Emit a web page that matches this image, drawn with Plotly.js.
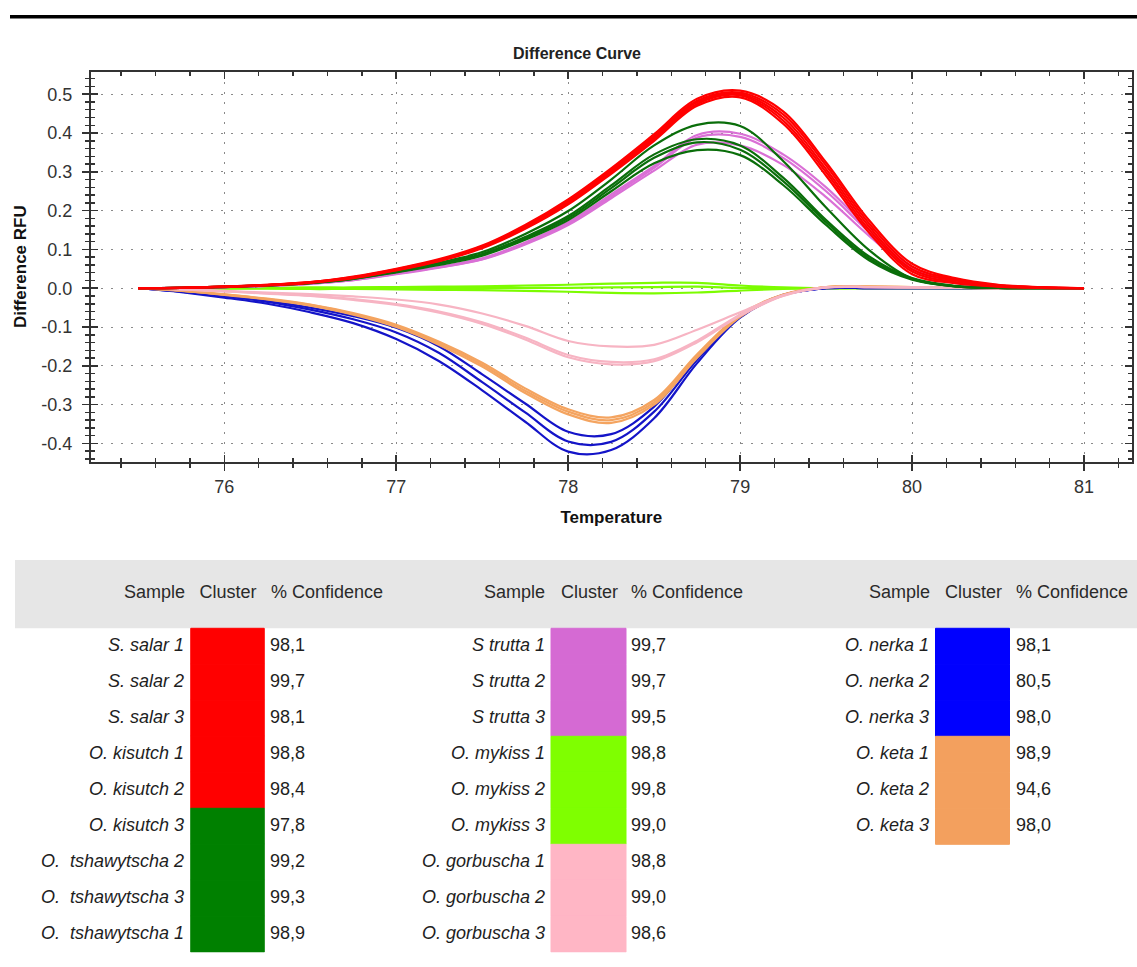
<!DOCTYPE html>
<html>
<head>
<meta charset="utf-8">
<script src="https://cdn.plot.ly/plotly-3.0.1.min.js"></script>
<style>
html, body { margin: 0; padding: 0; background: #ffffff; }
#chart { width: 1137px; height: 967px; }
</style>
</head>
<body>
<div id="chart"></div>
<script>
// ---------------- DATA ----------------
const temps = [75.5, 75.75, 76, 76.25, 76.5, 76.75, 77, 77.25, 77.5, 77.75, 78, 78.25, 78.5, 78.75, 79, 79.25, 79.5, 79.75, 80, 80.25, 80.5, 80.75, 81];

// red cluster
const salar1    = [0, 0.001, 0.003, 0.007, 0.014, 0.026, 0.046, 0.070, 0.103, 0.153, 0.216, 0.295, 0.380, 0.470, 0.492, 0.424, 0.290, 0.143, 0.036, 0.013, 0.004, 0.001, 0];
const salar2    = [0, 0.001, 0.004, 0.008, 0.015, 0.027, 0.047, 0.071, 0.105, 0.155, 0.219, 0.299, 0.384, 0.475, 0.497, 0.432, 0.299, 0.151, 0.043, 0.016, 0.005, 0.001, 0];
const salar3    = [0, 0.001, 0.004, 0.008, 0.015, 0.028, 0.048, 0.072, 0.106, 0.157, 0.222, 0.302, 0.388, 0.479, 0.500, 0.440, 0.307, 0.159, 0.049, 0.020, 0.007, 0.002, 0];
const kisutch1  = [0, 0.001, 0.004, 0.009, 0.016, 0.029, 0.049, 0.073, 0.108, 0.160, 0.225, 0.305, 0.392, 0.483, 0.504, 0.448, 0.316, 0.167, 0.056, 0.023, 0.008, 0.002, 0];
const kisutch2  = [0, 0.001, 0.004, 0.009, 0.016, 0.030, 0.050, 0.075, 0.110, 0.163, 0.229, 0.309, 0.397, 0.488, 0.509, 0.456, 0.324, 0.175, 0.063, 0.026, 0.009, 0.003, 0];
// dark green cluster
const kisutch3      = [0, 0.001, 0.004, 0.008, 0.014, 0.026, 0.045, 0.066, 0.093, 0.140, 0.199, 0.280, 0.368, 0.421, 0.418, 0.328, 0.208, 0.098, 0.025, 0.005, 0.001, 0, 0];
const tshawytscha2  = [0, 0.001, 0.004, 0.008, 0.014, 0.025, 0.043, 0.063, 0.088, 0.132, 0.186, 0.265, 0.345, 0.384, 0.368, 0.285, 0.176, 0.082, 0.026, 0.006, 0.001, 0, 0];
const tshawytscha3  = [0, 0.001, 0.003, 0.007, 0.013, 0.024, 0.042, 0.062, 0.086, 0.129, 0.181, 0.258, 0.336, 0.376, 0.357, 0.276, 0.170, 0.077, 0.024, 0.005, 0.001, 0, 0];
const tshawytscha1  = [0, 0.001, 0.003, 0.007, 0.013, 0.024, 0.041, 0.060, 0.084, 0.125, 0.176, 0.250, 0.322, 0.356, 0.343, 0.266, 0.163, 0.072, 0.022, 0.005, 0.001, 0, 0];
// orchid cluster
const trutta1 = [0, 0.001, 0.003, 0.006, 0.012, 0.022, 0.038, 0.055, 0.077, 0.118, 0.170, 0.242, 0.315, 0.395, 0.398, 0.345, 0.260, 0.152, 0.055, 0.016, 0.004, 0.001, 0];
const trutta2 = [0, 0.001, 0.003, 0.006, 0.012, 0.021, 0.037, 0.054, 0.075, 0.115, 0.166, 0.237, 0.310, 0.388, 0.390, 0.336, 0.250, 0.145, 0.052, 0.015, 0.004, 0.001, 0];
const trutta3 = [0, 0.001, 0.003, 0.006, 0.011, 0.021, 0.036, 0.053, 0.074, 0.113, 0.163, 0.232, 0.303, 0.370, 0.368, 0.318, 0.235, 0.135, 0.048, 0.014, 0.003, 0.001, 0];
// lawn green cluster
const mykiss1 = [0, 0, 0.001, 0.001, 0.002, 0.002, 0.003, 0.004, 0.005, 0.007, 0.009, 0.012, 0.014, 0.014, 0.007, 0.002, 0, 0, 0, 0, 0, 0, 0];
const mykiss2 = [0, 0, 0, 0, 0, 0.001, 0.001, 0.001, 0.001, 0.001, 0.001, 0.002, 0.003, 0.004, 0.001, 0, 0, 0, 0, 0, 0, 0, 0];
const mykiss3 = [0, 0, -0.001, -0.001, -0.002, -0.002, -0.003, -0.004, -0.005, -0.007, -0.009, -0.012, -0.013, -0.011, -0.006, -0.002, 0, 0, 0, 0, 0, 0, 0];
// pink cluster
const gorbuscha1 = [0, -0.003, -0.007, -0.011, -0.015, -0.021, -0.029, -0.042, -0.065, -0.097, -0.136, -0.150, -0.146, -0.107, -0.062, -0.018, 0.002, 0.003, 0.002, 0.001, 0, 0, 0];
const gorbuscha2 = [0, -0.003, -0.008, -0.013, -0.019, -0.028, -0.041, -0.060, -0.088, -0.127, -0.172, -0.190, -0.183, -0.135, -0.068, -0.019, 0.002, 0.003, 0.002, 0.001, 0, 0, 0];
const gorbuscha3 = [0, -0.003, -0.008, -0.014, -0.020, -0.030, -0.043, -0.063, -0.092, -0.132, -0.178, -0.196, -0.188, -0.139, -0.071, -0.020, 0.002, 0.003, 0.002, 0.001, 0, 0, 0];
// blue cluster
const nerka1 = [0, -0.008, -0.019, -0.032, -0.050, -0.072, -0.102, -0.150, -0.222, -0.297, -0.370, -0.376, -0.305, -0.176, -0.072, -0.017, 0, 0, 0, 0, 0, 0, 0];
const nerka2 = [0, -0.009, -0.021, -0.035, -0.055, -0.080, -0.114, -0.167, -0.242, -0.320, -0.395, -0.396, -0.318, -0.184, -0.074, -0.018, 0, 0, 0, 0, 0, 0, 0];
const nerka3 = [0, -0.010, -0.024, -0.040, -0.062, -0.090, -0.131, -0.188, -0.263, -0.344, -0.421, -0.417, -0.335, -0.193, -0.076, -0.018, 0, 0, 0, 0, 0, 0, 0];
// sandy brown cluster
const keta1 = [0, -0.006, -0.016, -0.027, -0.042, -0.064, -0.094, -0.138, -0.192, -0.258, -0.312, -0.333, -0.288, -0.170, -0.068, -0.016, 0.003, 0.004, 0.003, 0.001, 0, 0, 0];
const keta2 = [0, -0.006, -0.016, -0.028, -0.043, -0.066, -0.097, -0.142, -0.197, -0.264, -0.318, -0.340, -0.294, -0.174, -0.071, -0.017, 0.003, 0.004, 0.003, 0.001, 0, 0, 0];
const keta3 = [0, -0.007, -0.017, -0.029, -0.045, -0.068, -0.100, -0.146, -0.202, -0.270, -0.325, -0.347, -0.300, -0.179, -0.074, -0.018, 0.003, 0.004, 0.003, 0.001, 0, 0, 0];

// table columns
const samplesA  = ['S. salar 1', 'S. salar 2', 'S. salar 3', 'O. kisutch 1', 'O. kisutch 2', 'O. kisutch 3', 'O.\u00a0 tshawytscha 2', 'O.\u00a0 tshawytscha 3', 'O.\u00a0 tshawytscha 1'];
const clustersA = ['red', 'red', 'red', 'red', 'red', 'green', 'green', 'green', 'green'];
const confA     = ['98,1', '99,7', '98,1', '98,8', '98,4', '97,8', '99,2', '99,3', '98,9'];

const samplesB  = ['S trutta 1', 'S trutta 2', 'S trutta 3', 'O. mykiss 1', 'O. mykiss 2', 'O. mykiss 3', 'O. gorbuscha 1', 'O. gorbuscha 2', 'O. gorbuscha 3'];
const clustersB = ['orchid', 'orchid', 'orchid', 'lawn', 'lawn', 'lawn', 'pink', 'pink', 'pink'];
const confB     = ['99,7', '99,7', '99,5', '98,8', '99,8', '99,0', '98,8', '99,0', '98,6'];

const samplesC  = ['O. nerka 1', 'O. nerka 2', 'O. nerka 3', 'O. keta 1', 'O. keta 2', 'O. keta 3'];
const clustersC = ['blue', 'blue', 'blue', 'orange', 'orange', 'orange'];
const confC     = ['98,1', '80,5', '98,0', '98,9', '94,6', '98,0'];

const headerLabels = ['Sample', 'Cluster', '% Confidence'];

const yTickVals = [-0.4, -0.3, -0.2, -0.1, 0.0, 0.1, 0.2, 0.3, 0.4, 0.5];
const yTickText = ['-0.4', '-0.3', '-0.2', '-0.1', '0.0', '0.1', '0.2', '0.3', '0.4', '0.5'];
const xTickVals = [76, 77, 78, 79, 80, 81];
const xTickText = ['76', '77', '78', '79', '80', '81'];

// ---------------- STYLE ----------------
const lineColors  = { red: '#ff0000', green: '#0a6e0a', orchid: '#da70d6', lawn: '#7cfc00', pink: '#f7b4c3', blue: '#1414c8', orange: '#f4a460' };
const blockColors = { red: '#ff0000', green: '#008000', orchid: '#d56ad3', lawn: '#7fff00', pink: '#ffb6c5', blue: '#0000ff', orange: '#f3a05e' };

const curveSets = [
  { c: 'lawn',   ys: [mykiss1, mykiss2, mykiss3] },
  { c: 'blue',   ys: [nerka1, nerka2, nerka3] },
  { c: 'orange', ys: [keta1, keta2, keta3] },
  { c: 'pink',   ys: [gorbuscha1, gorbuscha2, gorbuscha3] },
  { c: 'orchid', ys: [trutta1, trutta2, trutta3] },
  { c: 'green',  ys: [kisutch3, tshawytscha2, tshawytscha3, tshawytscha1] },
  { c: 'red',    ys: [salar1, salar2, salar3, kisutch1, kisutch2] }
];

const FONT = '"Liberation Sans", Arial, sans-serif';
const W = 1137, H = 967;
const px = v => v / W;
const py = v => 1 - v / H;

const traces = [];
curveSets.forEach(set => {
  set.ys.forEach(ys => {
    traces.push({
      type: 'scatter', mode: 'lines', x: temps, y: ys,
      line: { color: lineColors[set.c], width: 2.2, shape: 'spline', smoothing: 1 },
      xaxis: 'x', yaxis: 'y', hoverinfo: 'skip', showlegend: false
    });
  });
});

// dummy trace so the overlay tick axes exist
traces.push({ type: 'scatter', mode: 'lines', x: [], y: [], xaxis: 'x2', yaxis: 'y2', showlegend: false, hoverinfo: 'skip' });

// ---------- table (drawn on its own axes, rows = index) ----------
const groups = [
  { samples: samplesA, clusters: clustersA, conf: confA, nameRight: 184, blockCenter: 227.5, blockWidth: 73.5, confLeft: 270, hdrSample: 185, hdrCluster: 228, hdrConf: 271 },
  { samples: samplesB, clusters: clustersB, conf: confB, nameRight: 545, blockCenter: 588.5, blockWidth: 75, confLeft: 631, hdrSample: 545, hdrCluster: 589.5, hdrConf: 631 },
  { samples: samplesC, clusters: clustersC, conf: confC, nameRight: 929, blockCenter: 972.5, blockWidth: 74, confLeft: 1016, hdrSample: 930, hdrCluster: 973.5, hdrConf: 1016 }
];

const tableFont = { family: FONT, size: 18, color: '#1e1e1e' };

groups.forEach(g => {
  const idx = g.samples.map((_, i) => i);
  const cols = g.clusters.map(c => blockColors[c]);
  traces.push({
    type: 'bar', orientation: 'v',
    x: idx.map(() => g.blockCenter), y: idx.map(() => 1), base: idx,
    width: idx.map(() => g.blockWidth),
    marker: { color: cols, line: { width: 1, color: cols } },
    xaxis: 'x3', yaxis: 'y3', hoverinfo: 'skip', showlegend: false
  });
  traces.push({
    type: 'scatter', mode: 'text',
    x: idx.map(() => g.nameRight), y: idx.map(i => i + 0.5), text: g.samples,
    textposition: 'middle left', textfont: Object.assign({}, tableFont, { style: 'italic' }),
    xaxis: 'x3', yaxis: 'y3', cliponaxis: false, hoverinfo: 'skip', showlegend: false
  });
  traces.push({
    type: 'scatter', mode: 'text',
    x: idx.map(() => g.confLeft), y: idx.map(i => i + 0.5), text: g.conf,
    textposition: 'middle right', textfont: tableFont,
    xaxis: 'x3', yaxis: 'y3', cliponaxis: false, hoverinfo: 'skip', showlegend: false
  });
  traces.push({
    type: 'scatter', mode: 'text',
    x: [g.hdrSample, g.hdrCluster, g.hdrConf], y: [-0.98, -0.98, -0.98], text: headerLabels,
    textposition: ['middle left', 'middle center', 'middle right'],
    textfont: { family: FONT, size: 18, color: '#2a2a2a' },
    xaxis: 'x3', yaxis: 'y3', cliponaxis: false, hoverinfo: 'skip', showlegend: false
  });
});

const xRange = [75.225, 81.276];
const yRange = [-0.447, 0.558];
const tickCol = '#333333';

const layout = {
  width: W, height: H,
  margin: { l: 0, r: 0, t: 0, b: 0 },
  paper_bgcolor: '#ffffff', plot_bgcolor: '#ffffff',
  showlegend: false, hovermode: false, barmode: 'overlay',
  font: { family: FONT, color: '#333' },
  title: {
    text: 'Difference Curve',
    font: { family: FONT, size: 16, weight: 'bold', color: '#222' },
    x: px(577), xref: 'container', xanchor: 'center',
    y: py(53), yref: 'container', yanchor: 'middle'
  },
  xaxis: {
    domain: [px(91), px(1131.5)], range: xRange, anchor: 'y',
    tickmode: 'array', tickvals: xTickVals, ticktext: xTickText,
    ticks: 'outside', ticklen: 7, tickwidth: 1.5, tickcolor: tickCol,
    minor: { tickmode: 'linear', tick0: 76, dtick: 0.2, ticks: 'outside', ticklen: 4, tickwidth: 1.5, tickcolor: tickCol, showgrid: false },
    showline: true, mirror: true, linecolor: '#333', linewidth: 2,
    showgrid: true, gridcolor: '#8a8a8a', griddash: '2px,8px', gridwidth: 1,
    zeroline: false, fixedrange: true,
    tickfont: { family: FONT, size: 18, color: '#333' }, ticklabelstandoff: 1,
    title: { text: 'Temperature', font: { family: FONT, size: 17, weight: 'bold', color: '#111' }, standoff: 15 }
  },
  yaxis: {
    domain: [py(461.7), py(71.7)], range: yRange, anchor: 'x',
    tickmode: 'array', tickvals: yTickVals, ticktext: yTickText,
    ticks: 'outside', ticklen: 7, tickwidth: 1.5, tickcolor: tickCol,
    minor: { tickmode: 'linear', tick0: 0, dtick: 0.02, ticks: 'outside', ticklen: 4, tickwidth: 1.5, tickcolor: tickCol, showgrid: false },
    showline: true, mirror: true, linecolor: '#333', linewidth: 2,
    showgrid: true, gridcolor: '#8a8a8a', griddash: '2px,8px', gridwidth: 1,
    zeroline: false, fixedrange: true,
    tickfont: { family: FONT, size: 18, color: '#333' }, ticklabelstandoff: 6,
    title: { text: 'Difference RFU', font: { family: FONT, size: 17, weight: 'bold', color: '#111' }, standoff: 10 }
  },
  xaxis2: {
    overlaying: 'x', anchor: 'y2', range: xRange,
    tickmode: 'array', tickvals: xTickVals,
    ticks: 'inside', ticklen: 7, tickwidth: 1.5, tickcolor: tickCol,
    minor: { tickmode: 'linear', tick0: 76, dtick: 0.2, ticks: 'inside', ticklen: 4, tickwidth: 1.5, tickcolor: tickCol, showgrid: false },
    mirror: 'allticks', showline: false, showgrid: false, zeroline: false, showticklabels: false, fixedrange: true
  },
  yaxis2: {
    overlaying: 'y', anchor: 'x2', range: yRange,
    tickmode: 'array', tickvals: yTickVals,
    ticks: 'inside', ticklen: 7, tickwidth: 1.5, tickcolor: tickCol,
    minor: { tickmode: 'linear', tick0: 0, dtick: 0.02, ticks: 'inside', ticklen: 4, tickwidth: 1.5, tickcolor: tickCol, showgrid: false },
    mirror: 'allticks', showline: false, showgrid: false, zeroline: false, showticklabels: false, fixedrange: true
  },
  xaxis3: { domain: [0, 1], range: [0, W], anchor: 'y3', visible: false, fixedrange: true },
  yaxis3: { domain: [py(952.3), py(560)], range: [9, -1.897], anchor: 'x3', visible: false, fixedrange: true },
  shapes: [
    { type: 'line', xref: 'paper', yref: 'paper', x0: px(10), x1: 1, y0: py(16.7), y1: py(16.7), line: { color: '#000', width: 3.5 } },
    { type: 'rect', xref: 'x3', yref: 'y3', x0: 15, x1: W, y0: -1.897, y1: 0, fillcolor: '#e6e6e6', line: { width: 0 }, layer: 'below' }
  ]
};

Plotly.newPlot('chart', traces, layout, { displayModeBar: false, staticPlot: true });
</script>
</body>
</html>
